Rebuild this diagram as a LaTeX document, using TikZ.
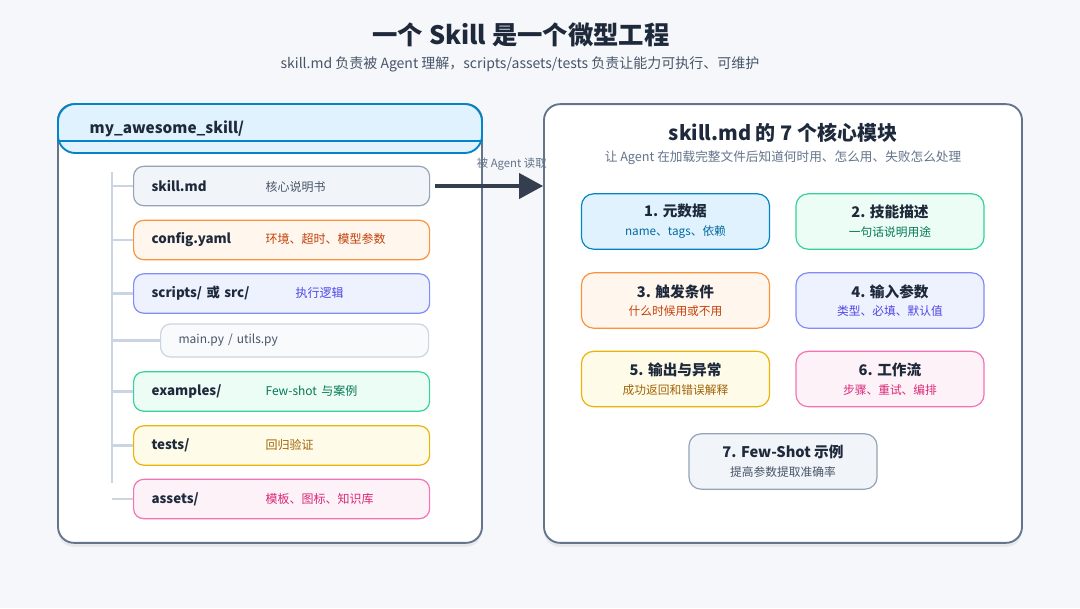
\documentclass[tikz,border=0pt]{standalone}
\usepackage{fontspec}
\setmainfont{Noto Sans CJK SC}
\usetikzlibrary{arrows.meta,shadows}
\definecolor{pagebg}{HTML}{F5F7FA}
\definecolor{ink}{HTML}{1E293B}
\definecolor{slate}{HTML}{64748B}
\definecolor{mute}{HTML}{475569}
\definecolor{trunk}{HTML}{CBD5E1}
\definecolor{bluefill}{HTML}{E0F2FE}\definecolor{blueline}{HTML}{0284C7}\definecolor{bluetext}{HTML}{0369A1}
\definecolor{greenfill}{HTML}{ECFDF5}\definecolor{greenline}{HTML}{34D399}\definecolor{greentext}{HTML}{047857}
\definecolor{orangefill}{HTML}{FFF7ED}\definecolor{orangeline}{HTML}{FB923C}\definecolor{orangetext}{HTML}{C2410C}
\definecolor{indigofill}{HTML}{EEF2FF}\definecolor{indigoline}{HTML}{818CF8}\definecolor{indigotext}{HTML}{4F46E5}
\definecolor{yellowfill}{HTML}{FEFCE8}\definecolor{yellowline}{HTML}{EAB308}\definecolor{yellowtext}{HTML}{A16207}
\definecolor{pinkfill}{HTML}{FDF2F8}\definecolor{pinkline}{HTML}{F472B6}\definecolor{pinktext}{HTML}{DB2777}
\definecolor{grayfill}{HTML}{F1F5F9}\definecolor{grayline}{HTML}{94A3B8}\definecolor{graytext}{HTML}{475569}
\definecolor{filefill}{HTML}{F8FAFC}

\begin{document}
\begin{tikzpicture}[x=0.75pt,y=-0.75pt,
            panel/.style={draw=slate,line width=1.4pt,fill=white,rounded corners=12pt,
                drop shadow={opacity=0.12,shadow xshift=0pt,shadow yshift=-3pt}},
            item/.style={draw,line width=0.9pt,rounded corners=7.5pt,anchor=west,
                text width=195pt,align=left,inner xsep=13.5pt,minimum height=29.5pt,
                font=\fontsize{10}{12}\selectfont,text=ink},
            module/.style={draw,line width=0.9pt,rounded corners=9pt,align=center,
                minimum width=141pt,minimum height=41.5pt,text=ink},
            branch/.style={draw=trunk,line width=2.2pt}
            ]
            \fill[pagebg] (0,0) rectangle (1080,608);
            \useasboundingbox (0,0) rectangle (1080,608);
            \node[text=ink,font=\fontsize{19}{23}\selectfont\bfseries] (title) at (521,35) {一个 Skill 是一个微型工程};
            \node[text=mute,font=\fontsize{10.5}{13}\selectfont] (subtitle) at (520,64) {skill.md 负责被 Agent 理解，scripts/assets/tests 负责让能力可执行、可维护};

            \node[panel,minimum width=318pt,minimum height=329pt] (left) at (270,323.5) {};
            \node[panel,minimum width=358.5pt,minimum height=329pt] (right) at (783,323.5) {};

            \node[draw=blueline,fill=bluefill,line width=1.4pt,rounded corners=13pt,
                minimum width=318pt,minimum height=36.75pt] (head) at (270,128.5) {};
            \draw[blueline,line width=1.4pt] ([yshift=9.75pt]head.south west) -- ([yshift=9.75pt]head.south east);
            \node[anchor=west,text=ink,font=\fontsize{11.5}{14}\selectfont\bfseries] (root) at (85,129) {my\_awesome\_skill/};

            \foreach \n/\y/\c/\nm/\ds/\w in {
                skill/186/gray/skill.md/核心说明书/85.5pt,
                cfg/240/orange/config.yaml/环境、超时、模型参数/85.5pt,
                scripts/293.5/indigo/{scripts/ 或 src/}/执行逻辑/108pt,
                examples/391.5/green/{examples/}/Few-shot 与案例/85.5pt,
                tests/445.5/yellow/{tests/}/回归验证/85.5pt,
                assets/499/pink/{assets/}/模板、图标、知识库/85.5pt}
                \node[item,draw=\c line,fill=\c fill] (\n) at (133,\y)
                    {\makebox[\w][l]{\bfseries\nm}{\color{\c text}\fontsize{9}{11}\selectfont\ds}};
            \node[item,draw=trunk,fill=filefill,text width=174pt,minimum height=24.75pt,
                font=\fontsize{9}{11}\selectfont,text=mute] (files) at (160,340.5) {main.py / utils.py};

            \coordinate (trunktop) at (112,172);
            \coordinate (trunkbot) at (112,483);
            \draw[branch] (trunktop) -- (trunkbot);
            \foreach \n in {skill,cfg,scripts,files,examples,tests,assets}
                \draw[branch] (\n.west -| trunktop) -- (\n.west);

            \draw[draw=ink!90,line width=2.3pt,-{Triangle[length=18pt,width=19pt]}]
                ([xshift=3.75pt]skill.east) -- (skill.east -| right.west)
                node[pos=0.71,above=7pt,text=slate,font=\fontsize{8.5}{10}\selectfont] (readlbl) {被 Agent 读取};

            \node[text=ink,font=\fontsize{15}{18}\selectfont\bfseries] (rtitle) at (783,133) {skill.md 的 7 个核心模块};
            \node[text=slate,font=\fontsize{9.5}{12}\selectfont] (rsub) at (783,158) {让 Agent 在加载完整文件后知道何时用、怎么用、失败怎么处理};

            \foreach \n/\x/\y/\c/\t/\s in {
                meta/675.5/221.5/blue/1. 元数据/name、tags、依赖,
                desc/890/221.5/green/2. 技能描述/一句话说明用途,
                trig/675.5/300.5/orange/3. 触发条件/什么时候用或不用,
                input/890/300.5/indigo/4. 输入参数/类型、必填、默认值,
                output/675.5/379/yellow/5. 输出与异常/成功返回和错误解释,
                flow/890/379/pink/6. 工作流/步骤、重试、编排,
                shots/783/461.5/gray/7. Few-Shot 示例/提高参数提取准确率}
                \node[module,draw=\c line,fill=\c fill] (\n) at (\x,\y)
                    {{\fontsize{11}{14}\selectfont\bfseries\t}\\[2pt]{\color{\c text}\fontsize{8.8}{12}\selectfont\s}};
        \end{tikzpicture}
\end{document}
